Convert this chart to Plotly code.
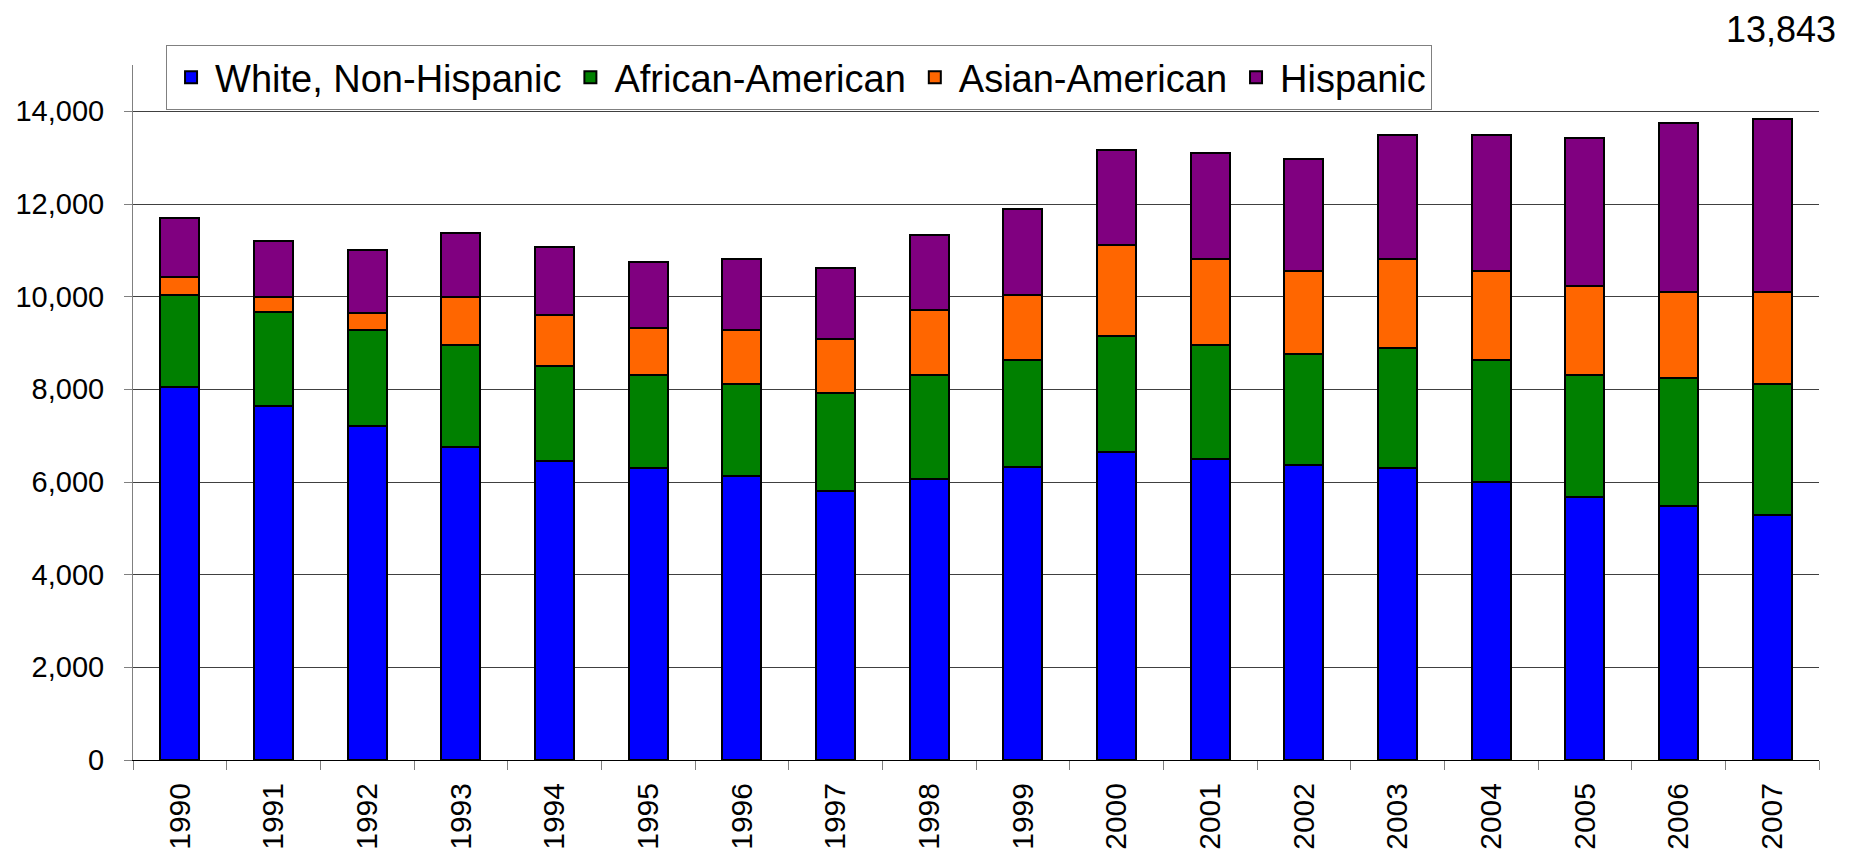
import plotly.graph_objects as go

# Enrollment by group
years = [str(y) for y in range(1990, 2008)]
white = [8050, 7630, 7210, 6760, 6450, 6310, 6130, 5810, 6060, 6320,
         6640, 6505, 6375, 6310, 6000, 5685, 5490, 5290]
african = [1990, 2030, 2070, 2195, 2055, 2010, 1990, 2120, 2260, 2310,
           2510, 2450, 2390, 2580, 2635, 2635, 2765, 2835]
asian = [380, 330, 375, 1030, 1095, 1010, 1160, 1150, 1400, 1405,
         1975, 1855, 1780, 1920, 1910, 1910, 1845, 1975]
hispanic = [1280, 1215, 1360, 1395, 1470, 1420, 1540, 1540, 1605, 1855,
            2040, 2295, 2425, 2685, 2945, 3200, 3650, 3743]

series = [
    ("White, Non-Hispanic", white, "#0000FF"),
    ("African-American", african, "#008000"),
    ("Asian-American", asian, "#FF6600"),
    ("Hispanic", hispanic, "#800080"),
]

FONT = "Liberation Sans, Arial, sans-serif"

fig = go.Figure()
for name, vals, color in series:
    fig.add_trace(
        go.Bar(
            name=name,
            x=years,
            y=vals,
            marker=dict(color=color, line=dict(color="black", width=2)),
        )
    )

# total of the last year, shown top right
last_total = white[-1] + african[-1] + asian[-1] + hispanic[-1]
fig.add_annotation(
    text=f"{last_total:,}",
    xref="paper", yref="paper",
    x=1.0107, y=1.0504,
    xanchor="right", yanchor="middle",
    showarrow=False,
    borderpad=0,
    font=dict(family=FONT, size=36, color="black"),
)

# page body has an 8px margin, so the figure is drawn 8px smaller
fig.update_layout(
    barmode="stack",
    bargap=0.584,
    width=1852,
    height=848,
    margin=dict(l=125, r=41, t=57, b=96, autoexpand=False),
    plot_bgcolor="white",
    paper_bgcolor="white",
    font=dict(family=FONT, color="black"),
    legend=dict(
        orientation="h",
        x=0.0196, y=1.0288,
        xanchor="left", yanchor="top",
        bgcolor="white",
        bordercolor="#808080",
        borderwidth=1,
        itemwidth=38,
        font=dict(family=FONT, size=38, color="black"),
        traceorder="normal",
    ),
    xaxis=dict(
        type="category",
        tickangle=-90,
        tickson="boundaries",
        ticks="outside",
        ticklen=9,
        tickcolor="#808080",
        showline=True,
        linecolor="black",
        linewidth=1,
        showgrid=False,
        automargin=False,
        ticklabelstandoff=10,
        tickfont=dict(family=FONT, size=30, color="black"),
    ),
    yaxis=dict(
        range=[0, 15000],
        dtick=2000,
        tickformat=",d",
        ticks="outside",
        ticklen=8,
        tickcolor="#808080",
        showline=True,
        linecolor="#808080",
        linewidth=1,
        showgrid=True,
        gridcolor="#404040",
        gridwidth=1,
        zeroline=False,
        automargin=False,
        ticklabelstandoff=14,
        tickfont=dict(family=FONT, size=29, color="black"),
    ),
)

fig.write_html("out.html")
